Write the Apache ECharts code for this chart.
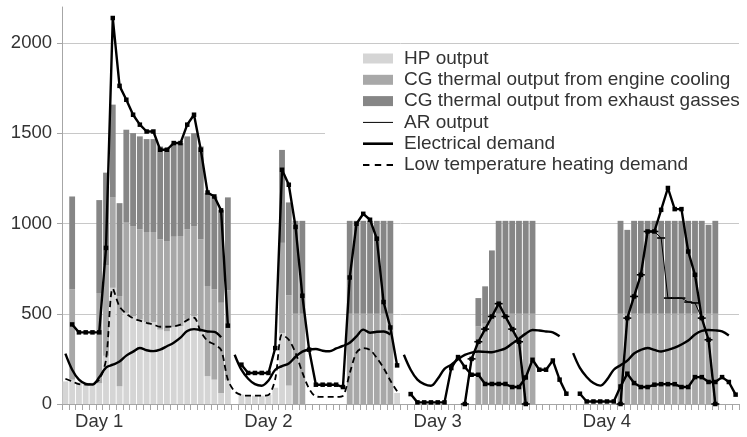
<!DOCTYPE html>
<html><head><meta charset="utf-8">
<script src="https://cdn.jsdelivr.net/npm/echarts@6/dist/echarts.min.js"></script>
<style>html,body{margin:0;padding:0;background:#fff}#c{width:747px;height:437px}</style>
</head><body><div id="c"></div>
<script>
// ---- tick labels ----
const dayLabels = ['Day 1', 'Day 2', 'Day 3', 'Day 4'];
const slotsPerDay = 25;
const labelSlot = 5;

// ---- bars (25 hourly slots per day) ----
const hpDay1 = [125,135,120,118,118,115,267,644,98,505,486,468,453,453,412,403,427,431,468,486,412,154,135,61,130];
const hpDay2 = [0,52,48,46,46,50,90,393,102,0,0,0,0,0,0,0,0,0,0,0,0,0,0,0,61];
const hpDay3 = [0,0,0,0,0,0,0,0,0,0,0,0,0,0,0,0,0,0,0,0,0,0,0,0,0];
const hpDay4 = [0,0,0,0,0,0,0,0,0,0,0,0,0,0,0,0,0,0,0,0,0,0,0,0,0];

const engineDay1 = [0,500,0,0,0,500,500,500,500,500,500,500,500,500,500,500,500,500,500,500,500,500,500,500,500];
const engineDay2 = [0,0,0,0,0,0,0,500,500,500,500,0,0,0,0,0,0,500,500,500,500,500,500,500,0];
const engineDay3 = [0,0,0,0,0,0,0,0,0,0,0,430,445,480,500,500,500,500,500,500,0,0,0,0,0];
const engineDay4 = [0,0,0,0,0,0,0,500,500,500,500,500,500,500,500,500,500,500,500,500,500,500,0,0,0];

const exhaustDay1 = [0,515,0,0,0,515,515,515,515,515,515,515,515,515,515,515,515,515,515,515,515,515,515,515,515];
const exhaustDay2 = [0,0,0,0,0,0,0,515,515,515,515,0,0,0,0,0,0,515,515,515,515,515,515,515,0];
const exhaustDay3 = [0,0,0,0,0,0,0,0,0,0,0,157,207,371,515,515,515,515,515,515,0,0,0,0,0];
const exhaustDay4 = [0,0,0,0,0,0,0,515,465,515,515,515,515,515,515,515,515,515,515,515,493,515,0,0,0];

// ---- lines ----
const sqDay1 = [null,441,397,397,397,397,865,2139,1763,1686,1603,1548,1510,1510,1409,1409,1446,1446,1548,1603,1409,1172,1150,1073,434];
const sqDay2 = [null,218,172,172,172,172,310,1298,1215,981,600,301,107,107,107,107,94,701,999,1054,1021,916,565,424,214];
const sqDay3 = [null,55,9,9,9,9,9,199,260,205,162,162,111,111,111,111,94,94,147,245,190,190,241,135,57];
const sqDay4 = [null,57,14,14,14,14,14,97,168,116,94,94,107,110,110,110,94,94,149,149,122,122,149,122,52];

const coolDay1 = new Array(25).fill(null);
const coolDay2 = new Array(25).fill(null);
const coolDay3 = [null,null,null,null,null,null,null,null,null,0,250,345,415,485,556,485,415,345,0,null,null,null,null,null,null];
const coolDay4 = [null,null,null,null,null,null,null,0,476,596,716,956,956,1076,1197,1080,1080,845,716,476,356,0,null,null,null];

const arDay1 = new Array(25).fill(null);
const arDay2 = new Array(25).fill(null);
const arDay3 = [null,null,null,null,null,null,null,null,null,0,250,345,415,485,556,485,415,345,0,null,null,null,null,null,null];
const arDay4 = [null,null,null,null,null,null,null,0,476,596,716,956,956,920,587,587,587,565,560,476,356,0,null,null,null];

const elDay1 = [279,190,135,112,108,148,202,218,235,268,290,310,298,293,301,320,340,368,405,415,410,402,400,370,null];
const elDay2 = [273,190,140,110,101,130,190,210,225,262,290,302,305,295,292,308,322,340,375,412,395,400,402,385,null];
const elDay3 = [273,190,135,110,101,140,195,218,248,272,285,291,289,287,296,308,335,362,390,410,407,402,397,375,null];
const elDay4 = [282,200,150,116,102,135,190,215,240,280,300,310,300,291,300,312,330,352,385,405,410,408,402,380,null];

const ltDay1 = [140,125,110,108,112,135,245,640,540,500,475,462,450,440,428,428,430,440,465,478,400,350,330,300,135];
const ltDay2 = [70,50,46,46,46,50,140,384,356,283,175,85,42,39,39,39,45,170,285,310,300,255,200,130,70];
const ltDay3 = new Array(25).fill(null);
const ltDay4 = new Array(25).fill(null);

// ---- assembly ----
const cat = [];
for (let d = 0; d < dayLabels.length; d++) for (let s = 0; s < slotsPerDay; s++) cat.push('D' + (d + 1) + 'h' + s);
const join = (a, b, c, d) => a.concat(b, c, d);
const nz = arr => arr.map(v => (v === 0 ? null : v));
const hp = nz(join(hpDay1, hpDay2, hpDay3, hpDay4));
const engine = nz(join(engineDay1, engineDay2, engineDay3, engineDay4));
const exhaust = nz(join(exhaustDay1, exhaustDay2, exhaustDay3, exhaustDay4));
const sq = join(sqDay1, sqDay2, sqDay3, sqDay4);
const cool = join(coolDay1, coolDay2, coolDay3, coolDay4);
const ar = join(arDay1, arDay2, arDay3, arDay4);
const el = join(elDay1, elDay2, elDay3, elDay4);
const lt = join(ltDay1, ltDay2, ltDay3, ltDay4);

const txt = '#333333';
const FONT = 'Liberation Sans, Arial, sans-serif';
const chart = echarts.init(document.getElementById('c'), null, {renderer: 'canvas'});
const barCommon = {type: 'bar', stack: 'heat', barCategoryGap: '14%', animation: false};
const lineCommon = {type: 'line', animation: false, connectNulls: false, z: 4, showAllSymbol: true};
chart.setOption({
  backgroundColor: '#fff',
  textStyle: {fontFamily: FONT},
  grid: {left: 62, right: 8, top: 7, bottom: 33},
  legend: {
    orient: 'vertical', left: 325, top: 45,
    padding: [4, 4, 8, 38],
    backgroundColor: '#fff',
    itemWidth: 30, itemHeight: 10, itemGap: 2.3,
    selectedMode: false,
    textStyle: {fontSize: 19, color: txt, fontFamily: FONT, lineHeight: 19, padding: [0, 0, 0, 6]},
    data: [
      {name: 'HP output', icon: 'rect'},
      {name: 'CG thermal output from engine cooling', icon: 'rect'},
      {name: 'CG thermal output from exhaust gasses', icon: 'rect'},
      {name: 'AR output', icon: 'path://M0,0H30V1H0Z', itemStyle: {color: '#000', borderWidth: 0}},
      {name: 'Electrical demand', icon: 'path://M0,0H30V2.6H0Z', itemStyle: {color: '#000', borderWidth: 0}},
      {name: 'Low temperature heating demand', icon: 'path://M0,0H6V2H0ZM11,0H17V2H11ZM22,0H28V2H22Z', itemStyle: {color: '#000', borderWidth: 0}}
    ]
  },
  xAxis: {
    type: 'category', data: cat, boundaryGap: true,
    axisLine: {lineStyle: {color: '#a6a6a6', width: 1}},
    axisTick: {show: true, interval: 0, length: 6, lineStyle: {color: '#a6a6a6'}},
    axisLabel: {
      interval: 0, margin: 8, fontSize: 18.5, color: txt, fontFamily: FONT,
      formatter: (v, i) => (i % slotsPerDay === labelSlot ? dayLabels[Math.floor(i / slotsPerDay)] : '')
    },
    splitLine: {show: false}
  },
  yAxis: {
    type: 'value', min: 0, max: 2200, interval: 500,
    axisLine: {show: true, lineStyle: {color: '#a6a6a6', width: 1}},
    axisTick: {show: true, length: 5, lineStyle: {color: '#a6a6a6'}},
    axisLabel: {fontSize: 18.5, color: txt, margin: 10, fontFamily: FONT, showMaxLabel: false,
      formatter: v => (v > 2000 ? '' : String(v))},
    splitLine: {show: true, showMaxLine: false, lineStyle: {color: '#c8c8c8', width: 1}}
  },
  series: [
    Object.assign({name: 'HP output', data: hp, itemStyle: {color: '#d5d5d5'}}, barCommon),
    Object.assign({name: 'CG thermal output from engine cooling', data: engine, itemStyle: {color: '#a8a8a8'}}, barCommon),
    Object.assign({name: 'CG thermal output from exhaust gasses', data: exhaust, itemStyle: {color: '#868686'}}, barCommon),
    Object.assign({name: 'High temperature heating demand', data: sq, symbol: 'rect', symbolSize: 4.5,
      lineStyle: {color: '#000', width: 2.4}, itemStyle: {color: '#000'}}, lineCommon),
    Object.assign({name: 'Cooling demand', data: cool, symbol: 'rect', symbolSize: 4.5,
      lineStyle: {color: '#000', width: 2.4}, itemStyle: {color: '#000'}}, lineCommon),
    Object.assign({name: 'AR output', data: ar, symbol: 'rect', symbolSize: [8, 1.6],
      lineStyle: {color: '#000', width: 1}, itemStyle: {color: '#000'}}, lineCommon),
    Object.assign({name: 'Electrical demand', data: el, symbol: 'none', smooth: 0.35,
      lineStyle: {color: '#000', width: 2.4}, itemStyle: {color: '#000'}}, lineCommon),
    Object.assign({name: 'Low temperature heating demand', data: lt, symbol: 'none', smooth: 0.3,
      lineStyle: {color: '#000', width: 1.8, type: [6, 4]}, itemStyle: {color: '#000'}}, lineCommon)
  ]
});
</script></body></html>
